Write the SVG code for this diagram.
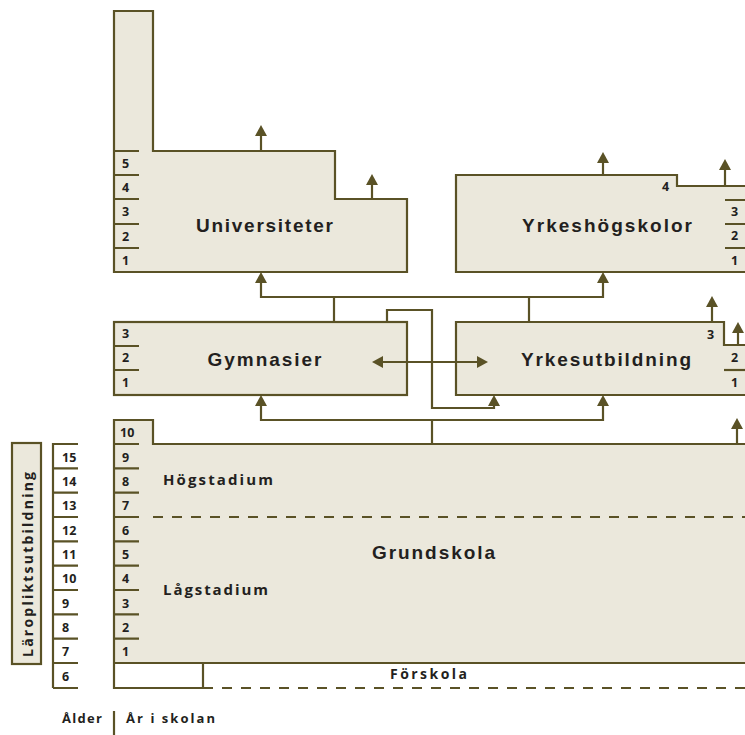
<svg xmlns="http://www.w3.org/2000/svg" width="745" height="735" viewBox="0 0 745 735">
<defs>
<style>
.fill{fill:#ebe8dc;stroke:none}
.ln{fill:none;stroke:#5a5226;stroke-width:2.2}
.bx{fill:#ebe8dc;stroke:#5a5226;stroke-width:2.2}
.dash{fill:none;stroke:#5a5226;stroke-width:2.2;stroke-dasharray:10 9}
.con{fill:none;stroke:#5a5226;stroke-width:2.2}
.arr{marker-end:url(#ah)}
.big{font-family:"Liberation Sans",Arial,sans-serif;font-weight:700;font-size:19px;fill:#231f20;text-anchor:middle}
.mid{font-family:"Open Sans","Liberation Sans",sans-serif;font-weight:700;font-size:15px;fill:#231f20}
.num{font-family:"Open Sans","Liberation Sans",sans-serif;font-weight:700;font-size:12.5px;fill:#231f20}
</style>
<marker id="ah" viewBox="0 0 11 12" refX="0" refY="6" markerWidth="11" markerHeight="12" markerUnits="userSpaceOnUse" orient="auto-start-reverse">
<path d="M0,0 L11,6 L0,12 Z" fill="#5a5226"/>
</marker>
</defs>
<rect width="745" height="735" fill="#ffffff"/>

<g id="universiteter">
<path class="fill" d="M114,11 H153 V151 H335 V199 H407 V272 H114 Z"/>
<path class="ln" d="M114,11 H153 V151 H335 V199 H407 V272 H114 Z"/>
<path class="ln" d="M114,151 H139 M114,175 H139 M114,199 H139 M114,224 H139 M114,248 H139"/>
<text class="num" x="122" y="168">5</text>
<text class="num" x="122" y="192">4</text>
<text class="num" x="122" y="216">3</text>
<text class="num" x="122" y="241">2</text>
<text class="num" x="122" y="265">1</text>
<text class="big" x="264.5" y="232" textLength="137" lengthAdjust="spacing">Universiteter</text>
</g>

<g id="yrkeshogskolor">
<path class="fill" d="M745,186 H677 V175 H456 V272 H745 Z"/>
<path class="ln" d="M746,186 H677 V175 H456 V272 H746"/>
<path class="ln" d="M725,200 H745 M725,224 H745 M725,248 H745"/>
<text class="num" x="662" y="191">4</text>
<text class="num" x="731" y="216">3</text>
<text class="num" x="731" y="240">2</text>
<text class="num" x="731" y="265">1</text>
<text class="big" x="607" y="232" textLength="170" lengthAdjust="spacing">Yrkeshögskolor</text>
</g>

<g id="gymnasier">
<rect class="bx" x="114" y="322" width="293" height="73"/>
<path class="ln" d="M114,346 H139 M114,370 H139"/>
<text class="num" x="122" y="338">3</text>
<text class="num" x="122" y="362">2</text>
<text class="num" x="122" y="387">1</text>
<text class="big" x="264.5" y="366" textLength="114" lengthAdjust="spacing">Gymnasier</text>
</g>

<g id="yrkesutbildning">
<path class="fill" d="M745,345 H724 V322 H456 V395 H745 Z"/>
<path class="ln" d="M746,345 H724 V322 H456 V395 H746"/>
<path class="ln" d="M724,370 H745"/>
<text class="num" x="707" y="339">3</text>
<text class="num" x="731" y="362">2</text>
<text class="num" x="731" y="387">1</text>
<text class="big" x="606" y="366" textLength="170" lengthAdjust="spacing">Yrkesutbildning</text>
</g>

<g id="grundskola">
<path class="fill" d="M114,420 H153 V444 H745 V663 H114 Z"/>
<path class="ln" d="M746,444 H153 V420 H114 V688 H203 V663"/>
<path class="ln" d="M114,663 H746"/>
<path class="dash" d="M153,517 H745"/>
<path class="ln" d="M114,444 H139 M114,468.3 H139 M114,492.7 H139 M114,517 H139 M114,541.3 H139 M114,565.7 H139 M114,590 H139 M114,614.3 H139 M114,638.7 H139"/>
<text class="num" x="120" y="437">10</text>
<text class="num" x="122" y="461.5">9</text>
<text class="num" x="122" y="486">8</text>
<text class="num" x="122" y="510">7</text>
<text class="num" x="122" y="534.5">6</text>
<text class="num" x="122" y="559">5</text>
<text class="num" x="122" y="583">4</text>
<text class="num" x="122" y="607.5">3</text>
<text class="num" x="122" y="632">2</text>
<text class="num" x="122" y="656">1</text>
<text class="mid" x="163" y="485" textLength="110" lengthAdjust="spacing">Högstadium</text>
<text class="mid" x="163" y="595" textLength="105" lengthAdjust="spacing">Lågstadium</text>
<text class="big" x="433.5" y="559" textLength="123" lengthAdjust="spacing">Grundskola</text>
</g>

<g id="forskola">
<path class="dash" d="M203,688 H745"/>
<text class="mid" x="390" y="679" textLength="77" lengthAdjust="spacing" style="font-size:14px">Förskola</text>
</g>

<g id="laroplikt">
<rect class="bx" x="12" y="443" width="29" height="221"/>
<text class="mid" transform="translate(33,657) rotate(-90)" x="0" y="0" textLength="185" lengthAdjust="spacing" style="font-size:14px">Läropliktsutbildning</text>
</g>

<g id="alder">
<path class="ln" d="M53,443 V688 M53,444 H78 M53,468.3 H78 M53,492.7 H78 M53,517 H78 M53,541.3 H78 M53,565.7 H78 M53,590 H78 M53,614.3 H78 M53,638.7 H78 M53,663 H78 M53,688 H78"/>
<text class="num" x="62" y="461.5">15</text>
<text class="num" x="62" y="486">14</text>
<text class="num" x="62" y="510">13</text>
<text class="num" x="62" y="534.5">12</text>
<text class="num" x="62" y="559">11</text>
<text class="num" x="62" y="583">10</text>
<text class="num" x="62" y="607.5">9</text>
<text class="num" x="62" y="632">8</text>
<text class="num" x="62" y="656">7</text>
<text class="num" x="62" y="681">6</text>
</g>

<g id="legend">
<path class="ln" d="M114,711 V735"/>
<text class="num" x="62" y="723" textLength="40" lengthAdjust="spacing" style="font-size:13px">Ålder</text>
<text class="num" x="126" y="723" textLength="89" lengthAdjust="spacing" style="font-size:13px">År i skolan</text>
</g>

<g id="connectors">
<path class="con arr" d="M261,151 V136"/>
<path class="con arr" d="M372,199 V185"/>
<path class="con arr" d="M603,175 V163"/>
<path class="con arr" d="M725,186 V170"/>
<path class="con arr" d="M712,322 V307"/>
<path class="con arr" d="M738,345 V333"/>
<path class="con arr" d="M737,444 V429"/>
<path class="con arr" d="M432,297 H261 V283"/>
<path class="con arr" d="M432,297 H603 V283"/>
<path class="con" d="M334,322 V297 M529,322 V297"/>
<path class="con arr" d="M387,322 V310 H432 V408 H494 V406"/>
<path class="con" d="M383,362 H477" marker-start="url(#ah)" marker-end="url(#ah)"/>
<path class="con arr" d="M432,420 H261 V406"/>
<path class="con arr" d="M432,420 H603 V406"/>
<path class="con" d="M432,420 V444"/>
</g>
</svg>
